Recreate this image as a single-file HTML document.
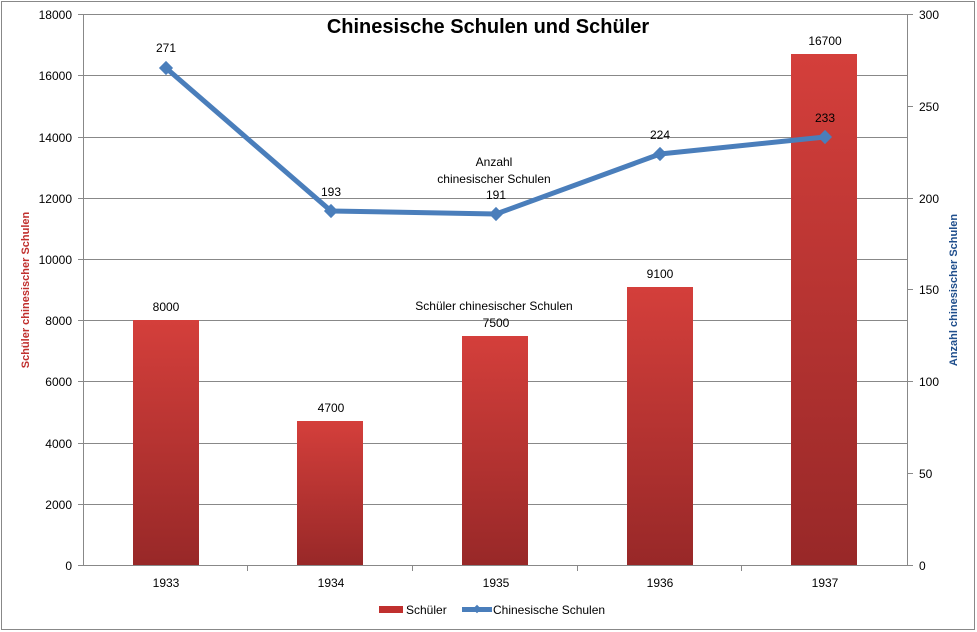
<!DOCTYPE html>
<html><head><meta charset="utf-8"><style>
html,body{margin:0;padding:0;background:#fff;}
svg{display:block;font-family:"Liberation Sans",sans-serif;}
</style></head><body>
<svg width="977" height="632" viewBox="0 0 977 632">
<defs>
<linearGradient id="g" x1="0" y1="0" x2="0" y2="1">
<stop offset="0" stop-color="#d43f3b"/><stop offset="1" stop-color="#982828"/>
</linearGradient>
</defs>
<rect x="1.5" y="1.5" width="973" height="628" fill="#fff" stroke="#888" stroke-width="1"/>
<g stroke="#888" stroke-width="1">
<line x1="84" y1="14.5" x2="907" y2="14.5"/>
<line x1="84" y1="75.5" x2="907" y2="75.5"/>
<line x1="84" y1="137.5" x2="907" y2="137.5"/>
<line x1="84" y1="198.5" x2="907" y2="198.5"/>
<line x1="84" y1="259.5" x2="907" y2="259.5"/>
<line x1="84" y1="320.5" x2="907" y2="320.5"/>
<line x1="84" y1="381.5" x2="907" y2="381.5"/>
<line x1="84" y1="443.5" x2="907" y2="443.5"/>
<line x1="84" y1="504.5" x2="907" y2="504.5"/>
<line x1="84" y1="565.5" x2="907" y2="565.5"/>
<line x1="83.5" y1="14" x2="83.5" y2="566"/>
<line x1="907.5" y1="14" x2="907.5" y2="566"/>
<line x1="78" y1="14.5" x2="84" y2="14.5"/><line x1="78" y1="75.5" x2="84" y2="75.5"/><line x1="78" y1="137.5" x2="84" y2="137.5"/><line x1="78" y1="198.5" x2="84" y2="198.5"/><line x1="78" y1="259.5" x2="84" y2="259.5"/><line x1="78" y1="320.5" x2="84" y2="320.5"/><line x1="78" y1="381.5" x2="84" y2="381.5"/><line x1="78" y1="443.5" x2="84" y2="443.5"/><line x1="78" y1="504.5" x2="84" y2="504.5"/><line x1="78" y1="565.5" x2="84" y2="565.5"/>
<line x1="907" y1="14.5" x2="913" y2="14.5"/><line x1="907" y1="106.5" x2="913" y2="106.5"/><line x1="907" y1="198.5" x2="913" y2="198.5"/><line x1="907" y1="289.5" x2="913" y2="289.5"/><line x1="907" y1="381.5" x2="913" y2="381.5"/><line x1="907" y1="473.5" x2="913" y2="473.5"/><line x1="907" y1="565.5" x2="913" y2="565.5"/>
<line x1="247.5" y1="565" x2="247.5" y2="571"/><line x1="412.5" y1="565" x2="412.5" y2="571"/><line x1="577.5" y1="565" x2="577.5" y2="571"/><line x1="741.5" y1="565" x2="741.5" y2="571"/>
</g>
<g fill="url(#g)">
<rect x="133" y="320" width="66" height="245"/>
<rect x="297" y="421" width="66" height="144"/>
<rect x="462" y="336" width="66" height="229"/>
<rect x="627" y="287" width="66" height="278"/>
<rect x="791" y="54" width="66" height="511"/>
</g>
<polyline points="166,68 331,211 496,214 660,154 825,137" fill="none" stroke="#4a7ebb" stroke-width="5" stroke-linejoin="round"/>
<g fill="#4a7ebb">
<rect x="161" y="63" width="10" height="10" transform="rotate(45 166 68)"/>
<rect x="326" y="206" width="10" height="10" transform="rotate(45 331 211)"/>
<rect x="491" y="209" width="10" height="10" transform="rotate(45 496 214)"/>
<rect x="655" y="149" width="10" height="10" transform="rotate(45 660 154)"/>
<rect x="820" y="132" width="10" height="10" transform="rotate(45 825 137)"/>
</g>
<g font-size="12" fill="#000" text-anchor="end">
<text x="72" y="19">18000</text><text x="72" y="80">16000</text><text x="72" y="142">14000</text><text x="72" y="203">12000</text><text x="72" y="264">10000</text><text x="72" y="325">8000</text><text x="72" y="386">6000</text><text x="72" y="448">4000</text><text x="72" y="509">2000</text><text x="72" y="570">0</text>
</g>
<g font-size="12" fill="#000">
<text x="919" y="19">300</text><text x="919" y="111">250</text><text x="919" y="203">200</text><text x="919" y="294">150</text><text x="919" y="386">100</text><text x="919" y="478">50</text><text x="919" y="570">0</text>
</g>
<g font-size="12" fill="#000" text-anchor="middle">
<text x="166" y="587">1933</text><text x="331" y="587">1934</text><text x="496" y="587">1935</text><text x="660" y="587">1936</text><text x="825" y="587">1937</text>
<text x="166" y="311">8000</text><text x="331" y="412">4700</text><text x="496" y="327">7500</text><text x="660" y="278">9100</text><text x="825" y="45">16700</text>
<text x="166" y="52">271</text><text x="331" y="196">193</text><text x="496" y="199">191</text><text x="660" y="139">224</text><text x="825" y="122">233</text>
<text x="494" y="166">Anzahl</text><text x="494" y="183">chinesischer Schulen</text>
<text x="494" y="310">Schüler chinesischer Schulen</text>
</g>
<text x="488" y="33" font-size="20" font-weight="bold" text-anchor="middle" fill="#000">Chinesische Schulen und Schüler</text>
<text transform="translate(29 290) rotate(-90)" font-size="11" font-weight="bold" fill="#c0302e" text-anchor="middle">Schüler chinesischer Schulen</text>
<text transform="translate(957 290) rotate(-90)" font-size="11" font-weight="bold" fill="#1f4e8c" text-anchor="middle">Anzahl chinesischer Schulen</text>
<rect x="379" y="606" width="24" height="7" fill="#c0302e"/>
<text x="406" y="614" font-size="12" fill="#000">Schüler</text>
<line x1="462" y1="609.5" x2="492" y2="609.5" stroke="#4a7ebb" stroke-width="5"/>
<rect x="474" y="606" width="6" height="6" fill="#4a7ebb" transform="rotate(45 477 609)"/>
<text x="493" y="614" font-size="12" fill="#000">Chinesische Schulen</text>
</svg>
</body></html>
